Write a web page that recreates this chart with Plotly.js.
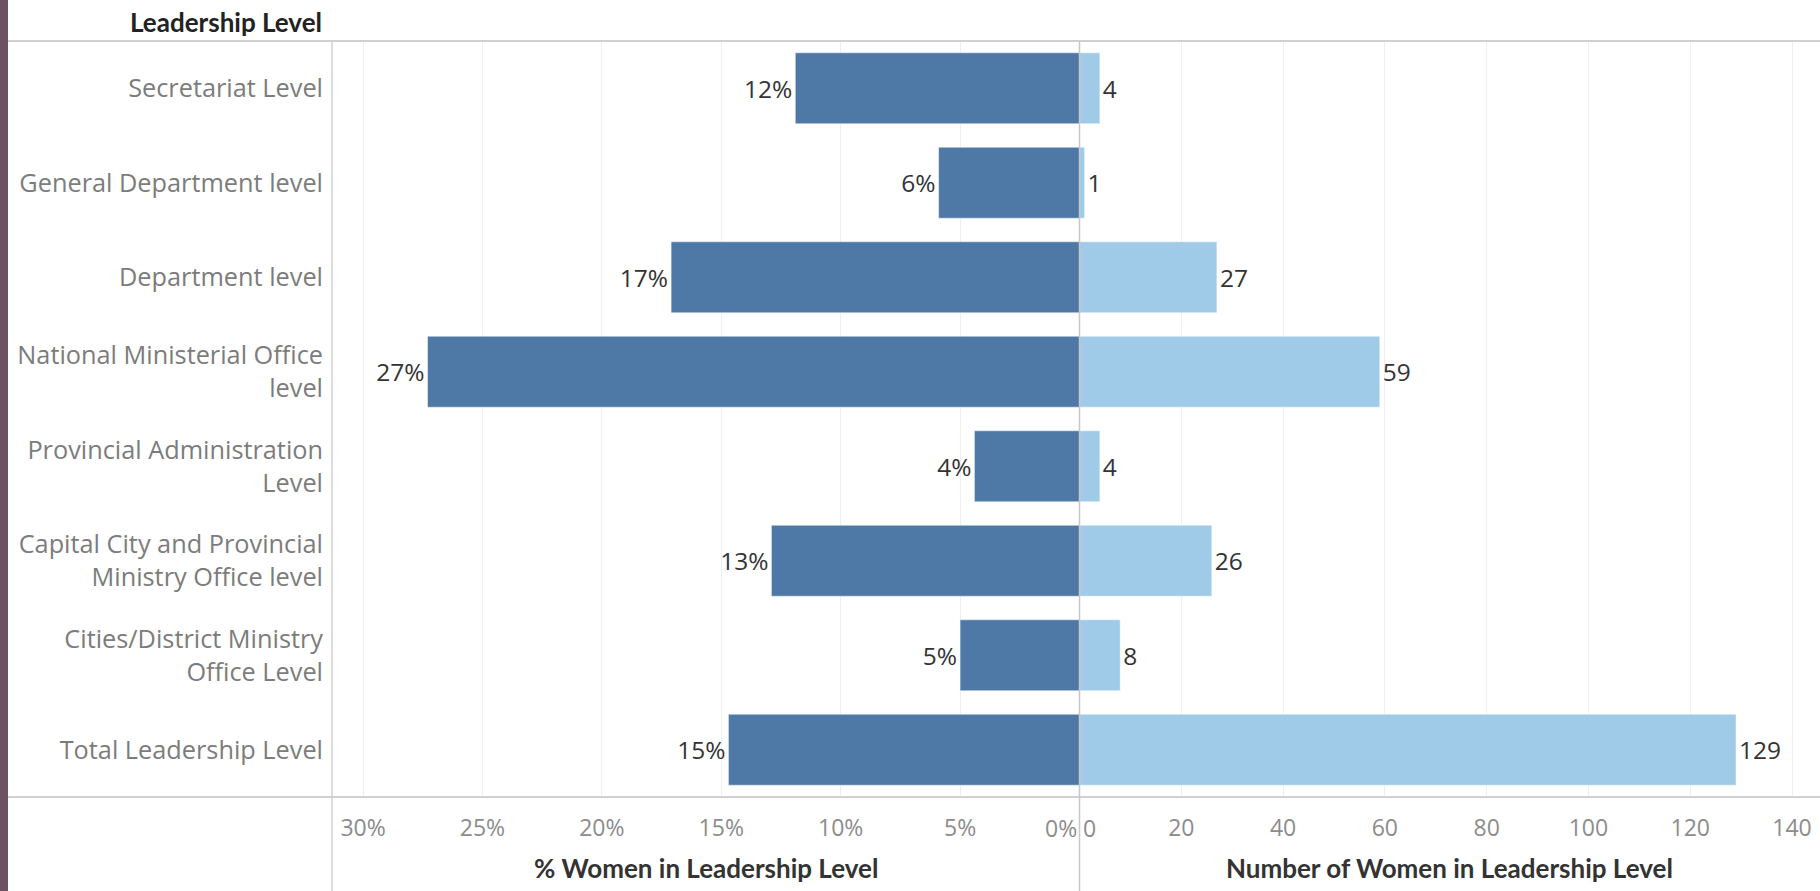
<!DOCTYPE html>
<html>
<head>
<meta charset="utf-8">
<script src="https://cdn.plot.ly/plotly-3.0.1.min.js"></script>
<style>
  html, body { margin: 0; padding: 0; background: #ffffff; }
  #chart { width: 1820px; height: 891px; }
</style>
</head>
<body>
<div id="chart"></div>
<script>
// ---- Data ----
const categories = [
  "Secretariat Level",
  "General Department level",
  "Department level",
  "National Ministerial Office<br>level",
  "Provincial Administration<br>Level",
  "Capital City and Provincial<br>Ministry Office level",
  "Cities/District Ministry<br>Office Level",
  "Total Leadership Level"
];
const pctWomen = [11.9, 5.9, 17.1, 27.3, 4.4, 12.9, 5.0, 14.7];   // % women in leadership level
const numWomen = [4, 1, 27, 59, 4, 26, 8, 129];                     // number of women
const pctTicks = [5, 10, 15, 20, 25, 30];
const pctTickText = ["5%", "10%", "15%", "20%", "25%", "30%"];
const numTicks = [20, 40, 60, 80, 100, 120, 140];
const pctTitle = "% Women in Leadership Level";
const numTitle = "Number of Women in Leadership Level";
const rowHeader = "Leadership Level";

// ---- Layout constants (pixels of the 1820x891 canvas) ----
const W = 1820, H = 891;
const px = v => v / W;
const py = v => 1 - v / H;
const xLeft = 332, xZero = 1079.5, yTop = 41, yBot = 797;

const BODY = '"Open Sans", "Noto Sans", sans-serif';
const HEAD = 'Lato, "Open Sans", sans-serif';
const darkBlue = '#4e79a7';
const lightBlue = '#a0cbe8';

const traces = [
  {
    type: 'bar', orientation: 'h',
    y: categories, x: pctWomen,
    xaxis: 'x', yaxis: 'y',
    marker: { color: darkBlue, line: { color: 'rgba(255,255,255,0.45)', width: 1 } },
    texttemplate: '%{x:.0f}%',
    textposition: 'outside',
    constraintext: 'none',
    cliponaxis: false,
    textfont: { family: BODY, size: 24.5, color: '#333333' },
    hoverinfo: 'skip'
  },
  {
    type: 'bar', orientation: 'h',
    y: categories, x: numWomen,
    xaxis: 'x2', yaxis: 'y',
    marker: { color: lightBlue, line: { color: 'rgba(255,255,255,0.45)', width: 1 } },
    texttemplate: '%{x}',
    textposition: 'outside',
    constraintext: 'none',
    cliponaxis: false,
    textfont: { family: BODY, size: 24.5, color: '#333333' },
    hoverinfo: 'skip'
  }
];

const lineCol = '#d0d0d0';
const tickCol = '#8c8c8c';
const layout = {
  width: W, height: H,
  margin: { l: 0, r: 0, t: 0, b: 0, pad: 0 },
  paper_bgcolor: '#ffffff', plot_bgcolor: '#ffffff',
  showlegend: false,
  bargap: 0.25,
  font: { family: BODY, size: 23, color: '#333333' },
  xaxis: {
    domain: [px(xLeft), px(xZero)],
    anchor: 'y',
    range: [31.3, 0],
    tickmode: 'array',
    tickvals: pctTicks,
    ticktext: pctTickText,
    showgrid: true, gridcolor: '#efefef', gridwidth: 1,
    zeroline: false, showline: false,
    ticks: '', ticklabelstandoff: 15,
    tickfont: { family: BODY, size: 23, color: tickCol },
    fixedrange: true
  },
  xaxis2: {
    domain: [px(xZero), 1],
    anchor: 'y',
    range: [0, 145.5],
    tickmode: 'array',
    tickvals: numTicks,
    showgrid: true, gridcolor: '#efefef', gridwidth: 1,
    zeroline: false, showline: false,
    ticks: '', ticklabelstandoff: 15,
    tickfont: { family: BODY, size: 23, color: tickCol },
    fixedrange: true
  },
  yaxis: {
    domain: [py(yBot), py(yTop)],
    anchor: 'x',
    type: 'category',
    categoryorder: 'array', categoryarray: categories,
    autorange: 'reversed',
    showgrid: false, zeroline: false, showline: false,
    ticks: '', ticklabelstandoff: 8,
    tickfont: { family: BODY, size: 25.3, color: '#7c7c7c' },
    automargin: false,
    fixedrange: true
  },
  shapes: [
    // left purple strip
    { type: 'rect', xref: 'paper', yref: 'paper', x0: 0, x1: px(8), y0: 0, y1: 1,
      fillcolor: '#6e5263', line: { width: 0 }, layer: 'above' },
    // top header rule
    { type: 'line', xref: 'paper', yref: 'paper', x0: px(8), x1: 1, y0: py(yTop), y1: py(yTop),
      line: { color: lineCol, width: 2 } },
    // bottom rule
    { type: 'line', xref: 'paper', yref: 'paper', x0: px(8), x1: 1, y0: py(yBot), y1: py(yBot),
      line: { color: lineCol, width: 2 } },
    // left pane divider
    { type: 'line', xref: 'paper', yref: 'paper', x0: px(xLeft), x1: px(xLeft), y0: 0, y1: py(yTop),
      line: { color: lineCol, width: 1.5 } },
    // center divider (zero)
    { type: 'line', xref: 'paper', yref: 'paper', x0: px(xZero), x1: px(xZero), y0: 0, y1: py(yTop),
      line: { color: '#c8c8c8', width: 1.5 }, layer: 'above' }
  ],
  annotations: [
    { text: rowHeader, xref: 'paper', yref: 'paper', x: px(324), y: py(22),
      xanchor: 'right', yanchor: 'middle', showarrow: false,
      font: { family: HEAD, size: 26, color: '#222222', weight: 'bold' } },
    { text: pctTitle, xref: 'x domain', yref: 'paper', x: 0.5, y: py(868),
      xanchor: 'center', yanchor: 'middle', showarrow: false,
      font: { family: HEAD, size: 26, color: '#333333', weight: 'bold' } },
    { text: numTitle, xref: 'x2 domain', yref: 'paper', x: 0.5, y: py(868),
      xanchor: 'center', yanchor: 'middle', showarrow: false,
      font: { family: HEAD, size: 26, color: '#333333', weight: 'bold' } },
    { text: '0%', xref: 'x', yref: 'paper', x: 0, y: py(828),
      xanchor: 'right', yanchor: 'middle', showarrow: false, xshift: -1,
      font: { family: BODY, size: 23, color: tickCol } },
    { text: '0', xref: 'x2', yref: 'paper', x: 0, y: py(828),
      xanchor: 'left', yanchor: 'middle', showarrow: false, xshift: 1,
      font: { family: BODY, size: 23, color: tickCol } }
  ]
};

Plotly.newPlot('chart', traces, layout, { displayModeBar: false, staticPlot: true });
</script>
</body>
</html>
